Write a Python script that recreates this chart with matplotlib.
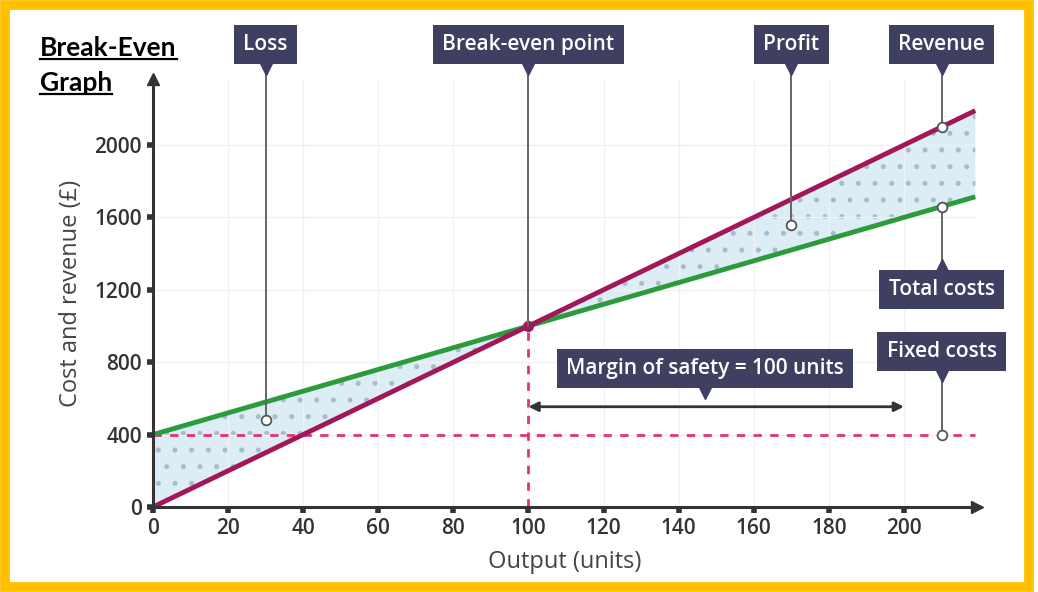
import numpy as np
import matplotlib
matplotlib.use('Agg')
import matplotlib.pyplot as plt
from matplotlib.patches import Rectangle
from matplotlib.transforms import offset_copy

# ---- data ----
output_units = [0, 100, 219]
revenue = [0, 1000, 2190]
total_costs = [400, 1000, 1714]
fixed_costs = 400
break_even = (100, 1000)
margin_of_safety = (100, 200)

x_ticks = [0, 20, 40, 60, 80, 100, 120, 140, 160, 180, 200]
y_ticks = [0, 400, 800, 1200, 1600, 2000]

loss_pt = (30, 480)
profit_pt = (170, 1560)
revenue_pt = (210, 2100)
total_pt = (210, 1660)
fixed_pt = (210, 400)

# colours
RED = '#a1175a'
GREEN = '#2b9b3b'
DASH = '#e6336e'
BOX = '#3f3f62'
DARK = '#333333'
FILL = '#dcedf6'

FONT = ['Open Sans', 'DejaVu Sans']
plt.rcParams['font.family'] = FONT

fig = plt.figure(figsize=(10.38, 5.92), dpi=100)
ax = fig.add_axes([0.1474, 0.1436, 0.7940, 0.7230])
ax.set_xlim(0, 219.5)
ax.set_ylim(0, 2365)

# faint grid
ax.set_xticks(x_ticks)
ax.set_yticks(y_ticks)
ax.grid(True, color='#f1f1f1', lw=1.0, zorder=0)

# shaded loss / profit areas
xs = np.array(output_units, dtype=float)
rev = np.array(revenue, dtype=float)
tc = np.array(total_costs, dtype=float)
plt.rcParams['hatch.color'] = '#a9bccb'
plt.rcParams['hatch.linewidth'] = 1.2
ax.fill_between(xs, rev, tc, facecolor=FILL, hatch='.', edgecolor='#a9bccb', lw=0, zorder=1)

# fixed costs & break-even guides
ax.plot([0, output_units[-1]], [fixed_costs, fixed_costs], color=DASH, lw=2, ls=(0, (3, 3)), zorder=2)
ax.plot([break_even[0], break_even[0]], [0, break_even[1]], color=DASH, lw=2, ls=(0, (3, 3)), zorder=2)

# main lines
ax.plot(output_units, total_costs, color=GREEN, lw=3.5, zorder=3, solid_capstyle='butt')
ax.plot(output_units, revenue, color=RED, lw=3.5, zorder=4, solid_capstyle='butt')
ax.plot(*break_even, 'o', color=RED, ms=7, zorder=5)

# axes look
for s in ['top', 'right']:
    ax.spines[s].set_visible(False)
for s in ['left', 'bottom']:
    ax.spines[s].set_color(DARK)
    ax.spines[s].set_linewidth(2.2)
    ax.spines[s].set_zorder(6)
ax.plot(1, 0, '>', color=DARK, ms=9, transform=ax.transAxes, clip_on=False, zorder=7)
ax.plot(0, 1, '^', color=DARK, ms=9, transform=ax.transAxes, clip_on=False, zorder=7)
ax.tick_params(axis='both', direction='out', length=4, width=4, color=DARK,
               labelsize=15, labelcolor=DARK, pad=4)
for lab in ax.get_xticklabels() + ax.get_yticklabels():
    lab.set_fontweight('semibold')

ax.set_xlabel('Output (units)', fontsize=17, color='#444444', labelpad=8)
ax.set_ylabel('Cost and revenue (£)', fontsize=17, color='#444444', labelpad=8)

# ---- labels with pointers ----
def box_label(x, y, text, direction='down', leader_to=None):
    ax.text(x, y, text, ha='center', va='center', color='white', fontsize=15,
            fontweight='semibold', zorder=10, clip_on=False,
            bbox=dict(boxstyle='square,pad=0.45', fc=BOX, ec='none'))
    if direction == 'down':
        tr = offset_copy(ax.transData, fig=fig, x=0, y=-17, units='points')
        ax.plot(x, y, 'v', color=BOX, ms=10, transform=tr, clip_on=False, zorder=10)
    else:
        tr = offset_copy(ax.transData, fig=fig, x=0, y=17, units='points')
        ax.plot(x, y, '^', color=BOX, ms=10, transform=tr, clip_on=False, zorder=10)
    if leader_to is not None:
        ax.plot([x, x], [y, leader_to], color='#666666', lw=1.4, zorder=8, clip_on=False)
        ax.plot(x, leader_to, 'o', mfc='white', mec='#555555', mew=1.3, ms=7,
                zorder=9, clip_on=False)

TOP = 2555
box_label(loss_pt[0], TOP, 'Loss', leader_to=loss_pt[1])
box_label(break_even[0], TOP, 'Break-even point', leader_to=None)
ax.plot([break_even[0]] * 2, [TOP, break_even[1]], color='#666666', lw=1.4, zorder=8, clip_on=False)
box_label(profit_pt[0], TOP, 'Profit', leader_to=profit_pt[1])
box_label(revenue_pt[0], TOP, 'Revenue', leader_to=revenue_pt[1])
box_label(total_pt[0], 1202, 'Total costs', direction='up', leader_to=total_pt[1])
box_label(fixed_pt[0], 859, 'Fixed costs', leader_to=fixed_pt[1])
box_label(147, 765, 'Margin of safety = 100 units')

ax.annotate('', xy=(margin_of_safety[1], 554), xytext=(margin_of_safety[0], 554),
            arrowprops=dict(arrowstyle='<|-|>', color=DARK, lw=2, mutation_scale=14,
                            shrinkA=0, shrinkB=0), zorder=6)

# ---- title with underline ----
t1 = fig.text(40 / 1038, 1 - 48 / 592, 'Break-Even', fontsize=19, fontweight='bold',
              family=['Lato', 'DejaVu Sans'], va='center', ha='left', color='black')
t2 = fig.text(40 / 1038, 1 - 83 / 592, 'Graph', fontsize=19, fontweight='bold',
              family=['Lato', 'DejaVu Sans'], va='center', ha='left', color='black')
fig.canvas.draw()
r = fig.canvas.get_renderer()
for t in (t1, t2):
    bb = t.get_window_extent(r).transformed(fig.transFigure.inverted())
    fig.add_artist(plt.Line2D([bb.x0, bb.x1], [bb.y0 + 0.002, bb.y0 + 0.002],
                              color='black', lw=1.6, transform=fig.transFigure))

# yellow frame
fig.add_artist(Rectangle((0.005, 0.008), 0.986, 0.984, transform=fig.transFigure,
                         fill=False, ec='#ffc000', lw=7))

fig.savefig('out.png', dpi=100)
